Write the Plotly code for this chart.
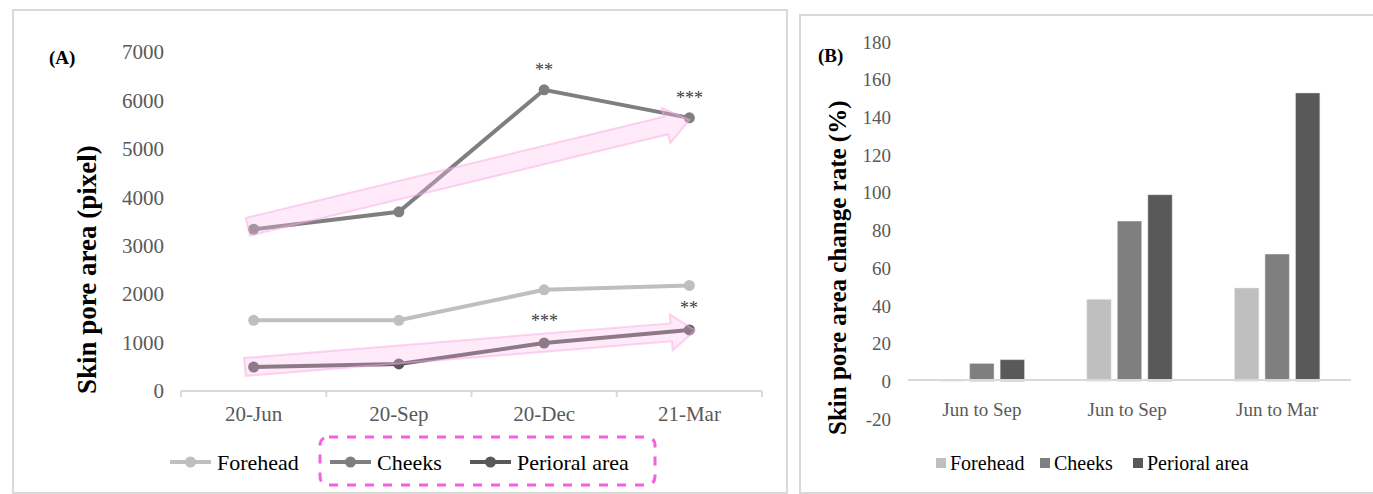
import math
import plotly.graph_objects as go

W, H = 1373, 494

# ---------------- data ----------------
dates = ["20-Jun", "20-Sep", "20-Dec", "21-Mar"]
forehead_area = [1460, 1460, 2090, 2180]
cheeks_area = [3340, 3700, 6220, 5640]
perioral_area = [495, 560, 990, 1260]

periods = ["Jun to Sep", "Jun to Sep ", "Jun to Mar"]
forehead_rate = [0, 43.5, 49.5]
cheeks_rate = [9.5, 85, 67.5]
perioral_rate = [11.5, 99, 153]

rate_ticks = [-20, 0, 20, 40, 60, 80, 100, 120, 140, 160, 180]
rate_tick_labels = ["-20", "0", "20", "40", "60", "80", "100", "120", "140", "160", "180"]

series_names = ["Forehead", "Cheeks", "Perioral area"]

# significance marks
sig_cheeks = ["", "", "**", "***"]
sig_perioral = ["", "", "***", "**"]

# decorative trend arrows: (x0, y0, x1, y1) in data units of panel A
trend_arrows = [(-0.04, 3390, 3.0, 5600), (-0.06, 496, 3.04, 1250)]

COLORS = ["#bfbfbf", "#7f7f7f", "#595959"]
SERIF = "Liberation Serif, Times New Roman, serif"

# ---------------- layout geometry (pixels) ----------------
AX0, AX1 = 181, 762      # panel A x axis
AY0, AY1 = 52, 391       # panel A y: top (7000) / bottom (0)
BX0, BX1 = 908, 1351
BY0, BY1 = 42, 419       # panel B y: top (180) / bottom (-20)
BZERO = 380

def px(x):
    return x / W

def py(y):
    return 1 - y / H

XR = [-0.5, 3.5]
YR = [0, 7000]

def to_pix(x, v):
    return (AX0 + (x - XR[0]) / (XR[1] - XR[0]) * (AX1 - AX0),
            AY1 - (v - YR[0]) / (YR[1] - YR[0]) * (AY1 - AY0))

def to_data(X, Y):
    return (XR[0] + (X - AX0) / (AX1 - AX0) * (XR[1] - XR[0]),
            YR[0] + (AY1 - Y) / (AY1 - AY0) * (YR[1] - YR[0]))

fig = go.Figure()
xi = list(range(len(dates)))

for name, vals, col in zip(series_names, [forehead_area, cheeks_area, perioral_area], COLORS):
    fig.add_trace(go.Scatter(x=xi, y=vals, name=name, mode="lines+markers",
                             line=dict(color=col, width=4),
                             marker=dict(color=col, size=11),
                             xaxis="x", yaxis="y", showlegend=False))

for name, vals, col in zip(series_names, [forehead_rate, cheeks_rate, perioral_rate], COLORS):
    fig.add_trace(go.Bar(x=periods, y=vals, name=name, marker_color=col,
                         xaxis="x2", yaxis="y2", showlegend=False))

shapes = []
# trend arrows
for (x0, v0, x1, v1) in trend_arrows:
    X0, Y0 = to_pix(x0, v0)
    X1, Y1 = to_pix(x1, v1)
    L = math.hypot(X1 - X0, Y1 - Y0)
    ux, uy = (X1 - X0) / L, (Y1 - Y0) / L
    nx, ny = -uy, ux
    hw, hh, hl = 9, 18, 24
    NX, NY = X1 - ux * hl, Y1 - uy * hl
    pts = [(X0 + nx * hw, Y0 + ny * hw), (NX + nx * hw, NY + ny * hw),
           (NX + nx * hh, NY + ny * hh), (X1, Y1),
           (NX - nx * hh, NY - ny * hh), (NX - nx * hw, NY - ny * hw),
           (X0 - nx * hw, Y0 - ny * hw)]
    dpts = [to_data(a, b) for a, b in pts]
    path = "M " + " L ".join(f"{a:.4f},{b:.2f}" for a, b in dpts) + " Z"
    shapes.append(dict(type="path", path=path, xref="x", yref="y",
                       fillcolor="rgba(255,190,240,0.32)",
                       line=dict(color="rgba(250,170,230,0.5)", width=2),
                       layer="above"))

# panel borders
shapes.append(dict(type="rect", xref="paper", yref="paper",
                   x0=px(13), x1=px(787), y0=py(493), y1=py(10),
                   line=dict(color="#d9d9d9", width=2), fillcolor="rgba(0,0,0,0)"))
shapes.append(dict(type="rect", xref="paper", yref="paper",
                   x0=px(800), x1=px(1380), y0=py(493), y1=py(15),
                   line=dict(color="#d9d9d9", width=2), fillcolor="rgba(0,0,0,0)"))

# dashed rounded rectangle around Cheeks / Perioral legend entries
rx0, rx1, ry0, ry1, r = 320, 655, 437, 485, 9
def P(x, y):
    return f"{px(x):.5f},{py(y):.5f}"
rpath = (f"M {P(rx0 + r, ry0)} L {P(rx1 - r, ry0)} Q {P(rx1, ry0)} {P(rx1, ry0 + r)} "
         f"L {P(rx1, ry1 - r)} Q {P(rx1, ry1)} {P(rx1 - r, ry1)} "
         f"L {P(rx0 + r, ry1)} Q {P(rx0, ry1)} {P(rx0, ry1 - r)} "
         f"L {P(rx0, ry0 + r)} Q {P(rx0, ry0)} {P(rx0 + r, ry0)} Z")
shapes.append(dict(type="path", path=rpath, xref="paper", yref="paper",
                   line=dict(color="#f75fdc", width=3, dash="dash"),
                   fillcolor="rgba(0,0,0,0)"))

# panel A axis line + tick marks between categories
shapes.append(dict(type="line", xref="paper", yref="paper", x0=px(AX0), x1=px(AX1),
                   y0=py(AY1), y1=py(AY1), line=dict(color="#d9d9d9", width=2)))
for k in range(5):
    xx = AX0 + k * (AX1 - AX0) / 4
    shapes.append(dict(type="line", xref="paper", yref="paper", x0=px(xx), x1=px(xx),
                       y0=py(AY1), y1=py(AY1 + 6), line=dict(color="#d9d9d9", width=2)))

annotations = []
for i, t in enumerate(sig_cheeks):
    if t:
        annotations.append(dict(x=i, y=cheeks_area[i], xref="x", yref="y", text=t,
                                showarrow=False, yshift=20,
                                font=dict(family=SERIF, size=18, color="#404040")))
for i, t in enumerate(sig_perioral):
    if t:
        annotations.append(dict(x=i, y=perioral_area[i], xref="x", yref="y", text=t,
                                showarrow=False, yshift=22,
                                font=dict(family=SERIF, size=18, color="#404040")))
annotations.append(dict(x=px(47), y=py(45), xref="paper", yref="paper", text="<b>(A)</b>",
                        showarrow=False, font=dict(family=SERIF, size=19, color="black")))
annotations.append(dict(x=px(830), y=py(43), xref="paper", yref="paper", text="<b>(B)</b>",
                        showarrow=False, font=dict(family=SERIF, size=19, color="black")))
annotations.append(dict(x=px(70), y=py(270), xref="paper", yref="paper",
                        text="<b>Skin pore area (pixel)</b>", textangle=-90, showarrow=False,
                        font=dict(family=SERIF, size=27, color="black")))
annotations.append(dict(x=px(838), y=py(268), xref="paper", yref="paper",
                        text="<b>Skin pore area change rate (%)</b>", textangle=-90,
                        showarrow=False, font=dict(family=SERIF, size=25, color="black")))

# manual legend for panel A (line + marker symbol)
legA_x = [170, 330, 470]
for name, col, lx in zip(series_names, COLORS, legA_x):
    shapes.append(dict(type="line", xref="paper", yref="paper",
                       x0=px(lx), x1=px(lx + 41), y0=py(462), y1=py(462),
                       line=dict(color=col, width=4)))
    cx = lx + 20.5
    shapes.append(dict(type="circle", xref="paper", yref="paper",
                       x0=px(cx - 5.5), x1=px(cx + 5.5), y0=py(467.5), y1=py(456.5),
                       fillcolor=col, line=dict(width=0)))
    annotations.append(dict(x=px(lx + 45), y=py(462), xref="paper", yref="paper",
                            text=name, showarrow=False, xanchor="left", yanchor="middle",
                            font=dict(family=SERIF, size=22, color="black")))

# manual legend for panel B (square symbol)
legB_x = [936, 1040, 1133]
for name, col, lx in zip(series_names, COLORS, legB_x):
    shapes.append(dict(type="rect", xref="paper", yref="paper",
                       x0=px(lx), x1=px(lx + 10), y0=py(468), y1=py(458),
                       fillcolor=col, line=dict(width=0)))
    annotations.append(dict(x=px(lx + 12), y=py(463), xref="paper", yref="paper",
                            text=name, showarrow=False, xanchor="left", yanchor="middle",
                            font=dict(family=SERIF, size=20, color="black")))

tickfontA = dict(family=SERIF, size=21, color="#595959")
tickfontB = dict(family=SERIF, size=19, color="#595959")

fig.update_layout(
    width=W, height=H, margin=dict(l=0, r=0, t=0, b=0),
    paper_bgcolor="white", plot_bgcolor="white",
    shapes=shapes, annotations=annotations, showlegend=False,
    xaxis=dict(domain=[px(AX0), px(AX1)], range=XR, tickmode="array", tickvals=xi,
               ticktext=dates, showgrid=False, zeroline=False, showline=False,
               tickfont=tickfontA, ticks="", automargin=False, ticklabelstandoff=8),
    yaxis=dict(domain=[py(AY1), py(AY0)], range=YR, dtick=1000, showgrid=False,
               zeroline=False, showline=False, tickfont=tickfontA, ticks="",
               ticklabelstandoff=16, automargin=False),
    xaxis2=dict(domain=[px(BX0), px(BX1)], showgrid=False, zeroline=False,
                showline=True, linecolor="#d9d9d9", linewidth=2, tickfont=tickfontB,
                ticks="", anchor="free", position=py(BZERO), ticklabelstandoff=12,
                automargin=False),
    yaxis2=dict(domain=[py(BY1), py(BY0)], range=[-20, 180], tickmode="array",
                tickvals=rate_ticks, ticktext=rate_tick_labels, showgrid=False,
                zeroline=False, showline=False, tickfont=tickfontB, ticks="",
                anchor="x2", ticklabelstandoff=16, automargin=False),
    bargap=0.38, bargroupgap=0.2,
)

fig.write_html("out.html")
